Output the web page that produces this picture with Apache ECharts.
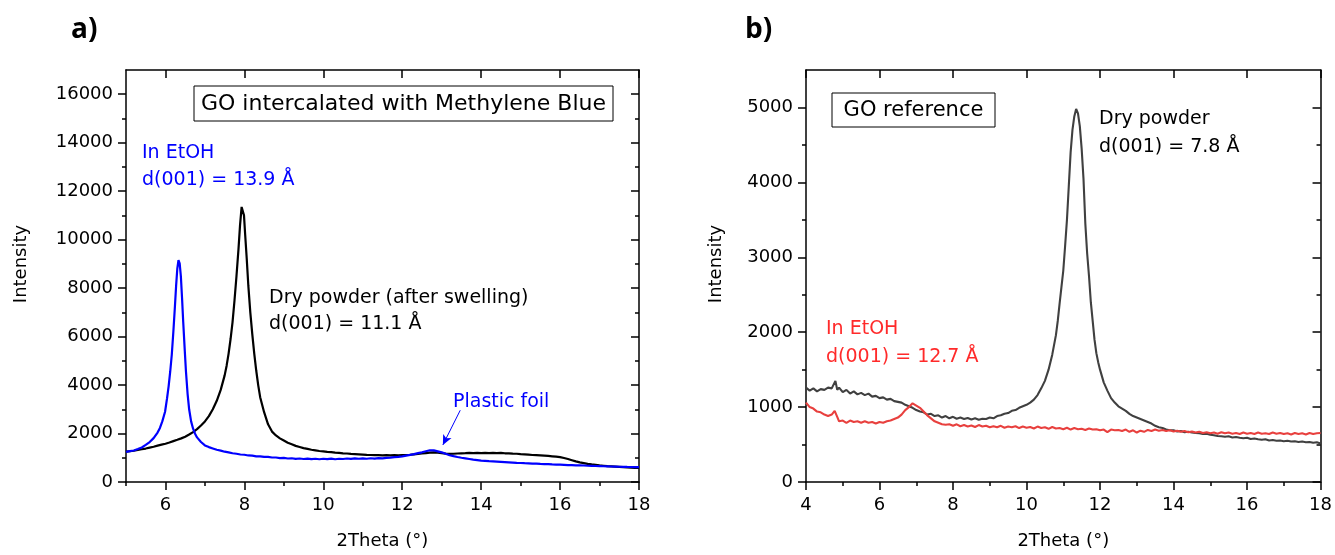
<!DOCTYPE html>
<html>
<head>
<meta charset="utf-8">
<title>XRD – GO intercalated with Methylene Blue / GO reference</title>
<script src="https://cdn.jsdelivr.net/npm/echarts@6/dist/echarts.min.js"></script>
<style>
  html, body { margin: 0; padding: 0; background: #fff; }
  #chart { width: 1335px; height: 555px; }
</style>
</head>
<body>
<div id="chart"></div>
<script>
// ---- Panel a: GO intercalated with Methylene Blue ----
// [2Theta (deg), intensity]
const ethanolA = [
  [5.0,1240],[5.1,1275],[5.2,1300],[5.3,1360],[5.4,1425],[5.5,1530],[5.6,1650],[5.7,1810],[5.8,2040],
  [5.86,2230],[5.92,2500],[5.99,2900],[6.04,3450],[6.08,3950],[6.12,4550],[6.16,5250],[6.2,6200],
  [6.24,7250],[6.27,8100],[6.3,8800],[6.33,9150],[6.36,9020],[6.39,8500],[6.42,7600],[6.45,6600],
  [6.49,5400],[6.52,4550],[6.56,3650],[6.6,3000],[6.65,2500],[6.7,2200],[6.75,1990],[6.8,1840],[6.9,1650],
  [7.0,1510],[7.1,1440],[7.2,1385],[7.3,1330],[7.4,1295],[7.5,1250],[7.6,1225],[7.7,1185],[7.8,1165],[7.9,1135],
  [8.0,1125],[8.1,1095],[8.2,1085],[8.3,1060],[8.4,1060],[8.5,1035],[8.6,1035],[8.7,1010],[8.8,1010],[8.9,985],
  [9.0,995],[9.1,970],[9.2,980],[9.3,955],[9.4,970],[9.5,950],[9.6,965],[9.7,945],[9.8,960],[9.9,940],
  [10.0,960],[10.1,945],[10.2,965],[10.3,940],[10.4,960],[10.5,950],[10.6,970],[10.7,955],[10.8,975],[10.9,960],
  [11.0,975],[11.1,960],[11.2,980],[11.3,965],[11.4,985],[11.5,975],[11.6,995],[11.7,1005],[11.8,1025],[11.9,1040],
  [12.0,1060],[12.1,1090],[12.2,1120],[12.3,1150],[12.4,1190],[12.5,1225],[12.6,1270],[12.7,1310],[12.8,1305],[12.9,1265],
  [13.0,1225],[13.1,1165],[13.2,1105],[13.3,1065],[13.4,1030],[13.5,1000],[13.6,975],[13.7,950],[13.8,925],[13.9,905],
  [14.0,885],[14.1,875],[14.2,860],[14.3,850],[14.4,840],[14.5,830],[14.6,820],[14.7,810],[14.8,800],[14.9,790],
  [15.0,785],[15.1,775],[15.2,770],[15.3,760],[15.4,755],[15.5,745],[15.6,740],[15.7,735],[15.8,725],[15.9,720],
  [16.0,715],[16.1,710],[16.2,700],[16.3,695],[16.4,690],[16.5,685],[16.6,680],[16.7,670],[16.8,665],[16.9,660],
  [17.0,655],[17.1,650],[17.2,645],[17.3,640],[17.4,635],[17.5,630],[17.6,625],[17.7,620],[17.8,618],[17.9,612],
  [18.0,610]
];

const dryPowderA = [
  [5.0,1250],[5.1,1270],[5.2,1290],[5.3,1320],[5.4,1350],[5.5,1380],[5.6,1420],[5.7,1455],[5.8,1500],[5.9,1540],
  [6.0,1580],[6.1,1630],[6.2,1685],[6.3,1740],[6.4,1800],[6.5,1870],[6.6,1960],[6.7,2060],[6.8,2180],[6.9,2330],
  [7.0,2500],[7.1,2720],[7.2,3000],[7.3,3350],[7.4,3800],[7.5,4400],
  [7.55,4800],[7.6,5300],[7.65,5900],[7.7,6600],[7.75,7500],[7.8,8500],[7.85,9600],[7.89,10600],[7.93,11350],
  [7.96,11400],[7.99,11000],[8.02,10200],[8.06,9200],[8.1,8100],[8.15,7000],[8.2,6100],[8.25,5300],[8.3,4600],
  [8.35,4000],[8.4,3500],[8.5,2880],[8.6,2380],[8.7,2080],[8.8,1920],[8.9,1800],
  [9.0,1710],[9.1,1620],[9.2,1555],[9.3,1490],[9.4,1445],[9.5,1400],[9.6,1365],[9.7,1330],[9.8,1305],[9.9,1280],
  [10.0,1265],[10.1,1245],[10.2,1235],[10.3,1215],[10.4,1200],[10.5,1185],[10.6,1175],[10.7,1160],[10.8,1150],[10.9,1140],
  [11.0,1130],[11.1,1120],[11.2,1115],[11.3,1105],[11.4,1110],[11.5,1100],[11.6,1105],[11.7,1095],[11.8,1105],[11.9,1100],
  [12.0,1110],[12.1,1115],[12.2,1125],[12.3,1140],[12.4,1155],[12.5,1175],[12.6,1195],[12.7,1215],[12.8,1225],[12.9,1210],
  [13.0,1190],[13.1,1170],[13.2,1160],[13.3,1165],[13.4,1175],[13.5,1185],[13.6,1190],[13.7,1200],[13.8,1195],[13.9,1205],
  [14.0,1195],[14.1,1200],[14.2,1190],[14.3,1200],[14.4,1195],[14.5,1205],[14.6,1185],[14.7,1180],[14.8,1170],[14.9,1165],
  [15.0,1150],[15.1,1140],[15.2,1130],[15.3,1115],[15.4,1105],[15.5,1095],[15.6,1085],[15.7,1075],[15.8,1060],[15.9,1045],
  [16.0,1025],[16.1,990],[16.2,950],[16.3,900],[16.4,850],[16.5,810],[16.6,780],[16.7,750],[16.8,725],[16.9,705],
  [17.0,685],[17.1,670],[17.2,655],[17.3,645],[17.4,635],[17.5,625],[17.6,615],[17.7,605],[17.8,595],[17.9,585],
  [18.0,578]
];

// ---- Panel b: GO reference ----
const dryPowderB = [
  [4.0,1260],[4.1,1220],[4.2,1250],[4.3,1210],[4.4,1240],[4.5,1230],[4.6,1260],[4.7,1250],[4.8,1350],[4.85,1230],
  [4.9,1260],[5.0,1200],[5.1,1230],[5.2,1180],[5.3,1210],[5.4,1170],[5.5,1190],[5.6,1160],[5.7,1180],[5.8,1140],
  [5.9,1150],[6.0,1120],[6.1,1130],[6.2,1100],[6.3,1110],[6.4,1080],[6.5,1070],[6.6,1060],[6.7,1030],[6.8,1010],
  [6.9,990],[7.0,960],[7.1,940],[7.2,930],[7.3,900],[7.4,910],[7.5,880],[7.6,890],[7.7,860],[7.8,880],
  [7.9,850],[8.0,870],[8.1,845],[8.2,860],[8.3,840],[8.4,855],[8.5,835],[8.6,850],[8.7,830],[8.8,845],
  [8.9,840],[9.0,860],[9.1,850],[9.2,880],[9.3,890],[9.4,910],[9.5,920],[9.6,950],[9.7,960],[9.8,990],
  [9.9,1010],[10.0,1030],[10.1,1060],[10.2,1100],[10.3,1160],[10.4,1250],[10.5,1350],[10.6,1500],[10.7,1700],[10.8,1960],
  [10.85,2150],[10.9,2380],[10.95,2600],[11.0,2820],[11.05,3150],[11.1,3500],[11.15,3950],[11.2,4400],[11.25,4700],[11.3,4880],
  [11.35,4980],[11.4,4920],[11.45,4750],[11.5,4450],[11.55,4050],[11.6,3450],[11.65,3050],[11.7,2750],[11.75,2400],[11.8,2150],
  [11.85,1900],[11.9,1720],[11.95,1600],[12.0,1500],
  [12.1,1330],[12.2,1220],[12.3,1120],[12.4,1060],[12.5,1010],[12.6,980],[12.7,950],[12.8,910],[12.9,880],[13.0,860],
  [13.1,840],[13.2,820],[13.3,800],[13.4,780],[13.5,750],[13.6,730],[13.7,720],[13.8,700],[13.9,690],[14.0,690],
  [14.1,675],[14.2,680],[14.3,665],[14.4,670],[14.5,660],[14.6,655],[14.7,650],[14.8,640],[14.9,645],[15.0,630],
  [15.1,625],[15.2,615],[15.3,610],[15.4,605],[15.5,610],[15.6,595],[15.7,600],[15.8,590],[15.9,585],[16.0,590],
  [16.1,575],[16.2,580],[16.3,570],[16.4,565],[16.5,570],[16.6,555],[16.7,560],[16.8,550],[16.9,555],[17.0,545],
  [17.1,550],[17.2,540],[17.3,545],[17.4,535],[17.5,540],[17.6,530],[17.7,535],[17.8,525],[17.9,530],[18.0,515]
];

const ethanolB = [
  [4.0,1060],[4.1,1000],[4.2,980],[4.3,940],[4.4,930],[4.5,900],[4.6,880],[4.7,900],[4.78,950],[4.85,870],
  [4.9,810],[5.0,820],[5.1,790],[5.2,820],[5.3,800],[5.4,810],[5.5,790],[5.6,810],[5.7,790],[5.8,800],
  [5.9,780],[6.0,800],[6.1,790],[6.2,810],[6.3,820],[6.4,840],[6.5,860],[6.6,900],[6.7,960],[6.8,1000],
  [6.9,1050],[6.95,1060],[7.0,1020],[7.1,990],[7.2,940],[7.3,890],[7.4,850],[7.5,810],[7.6,790],[7.7,770],
  [7.8,765],[7.9,770],[8.0,750],[8.1,770],[8.2,745],[8.3,760],[8.4,740],[8.5,755],[8.6,735],[8.7,760],
  [8.8,740],[8.9,750],[9.0,730],[9.1,745],[9.2,730],[9.3,750],[9.4,725],[9.5,740],[9.6,730],[9.7,745],
  [9.8,720],[9.9,740],[10.0,725],[10.1,735],[10.2,715],[10.3,740],[10.4,720],[10.5,730],[10.6,710],[10.7,735],
  [10.8,715],[10.9,720],[11.0,705],[11.1,725],[11.2,700],[11.3,720],[11.4,705],[11.5,710],[11.6,695],[11.7,715],
  [11.8,700],[11.9,705],[12.0,690],[12.1,700],[12.2,665],[12.3,700],[12.4,690],[12.5,695],[12.6,680],[12.7,700],
  [12.8,670],[12.9,690],[13.0,660],[13.1,685],[13.2,670],[13.3,695],[13.4,680],[13.5,700],[13.6,685],[13.7,695],
  [13.8,680],[13.9,690],[14.0,675],[14.1,685],[14.2,670],[14.3,680],[14.4,665],[14.5,675],[14.6,660],[14.7,670],
  [14.8,655],[14.9,665],[15.0,650],[15.1,660],[15.2,645],[15.3,665],[15.4,650],[15.5,660],[15.6,645],[15.7,655],
  [15.8,640],[15.9,660],[16.0,645],[16.1,655],[16.2,640],[16.3,660],[16.4,645],[16.5,650],[16.6,640],[16.7,660],
  [16.8,645],[16.9,655],[17.0,640],[17.1,650],[17.2,635],[17.3,655],[17.4,640],[17.5,650],[17.6,635],[17.7,655],
  [17.8,640],[17.9,650],[18.0,655]
];

// Tick positions
const xMajorA = [6, 8, 10, 12, 14, 16, 18];
const xMinorA = [5, 7, 9, 11, 13, 15, 17];
const yMajorA = [0, 2000, 4000, 6000, 8000, 10000, 12000, 14000, 16000];
const yMinorA = [1000, 3000, 5000, 7000, 9000, 11000, 13000, 15000];
const xMajorB = [4, 6, 8, 10, 12, 14, 16, 18];
const xMinorB = [5, 7, 9, 11, 13, 15, 17];
const yMajorB = [0, 1000, 2000, 3000, 4000, 5000];
const yMinorB = [500, 1500, 2500, 3500, 4500];

const FONT = 'DejaVu Sans';
const BLACK = '#000000';
const lineSt = { color: BLACK, width: 1.5 };

// Four x axes per panel: labelled bottom with long ticks, bottom short ticks,
// mirrored top line with inward long ticks, top inward short ticks.
function xAxesFor(g, min, max, majors, minors) {
  const base = { type: 'value', gridIndex: g, min: min, max: max, splitLine: { show: false } };
  return [
    Object.assign({}, base, {
      position: 'bottom',
      axisLine: { show: true, onZero: false, lineStyle: lineSt },
      axisTick: { show: true, customValues: majors, length: 8, lineStyle: lineSt },
      axisLabel: { show: true, customValues: majors, margin: 14, fontFamily: FONT, fontSize: 18, color: BLACK,
                   formatter: v => String(v) },
      name: '2Theta (°)', nameLocation: 'middle', nameGap: 50,
      nameTextStyle: { fontFamily: FONT, fontSize: 18, color: BLACK }
    }),
    Object.assign({}, base, {
      position: 'bottom', axisLine: { show: false },
      axisTick: { show: true, customValues: minors, length: 4, lineStyle: lineSt },
      axisLabel: { show: false }
    }),
    Object.assign({}, base, {
      position: 'top',
      axisLine: { show: true, onZero: false, lineStyle: lineSt },
      axisTick: { show: true, inside: true, customValues: majors, length: 8, lineStyle: lineSt },
      axisLabel: { show: false }
    }),
    Object.assign({}, base, {
      position: 'top', axisLine: { show: false },
      axisTick: { show: true, inside: true, customValues: minors, length: 4, lineStyle: lineSt },
      axisLabel: { show: false }
    })
  ];
}

function yAxesFor(g, min, max, majors, minors, gap) {
  const base = { type: 'value', gridIndex: g, min: min, max: max, splitLine: { show: false } };
  return [
    Object.assign({}, base, {
      position: 'left',
      axisLine: { show: true, onZero: false, lineStyle: lineSt },
      axisTick: { show: true, customValues: majors, length: 8, lineStyle: lineSt },
      axisLabel: { show: true, customValues: majors, margin: 13, fontFamily: FONT, fontSize: 18, color: BLACK,
                   formatter: v => String(v) },
      name: 'Intensity', nameLocation: 'middle', nameGap: gap, nameRotate: 90,
      nameTextStyle: { fontFamily: FONT, fontSize: 18, color: BLACK, padding: [0, 0, 0, 24] }
    }),
    Object.assign({}, base, {
      position: 'left', axisLine: { show: false },
      axisTick: { show: true, customValues: minors, length: 4, lineStyle: lineSt },
      axisLabel: { show: false }
    }),
    Object.assign({}, base, {
      position: 'right',
      axisLine: { show: true, onZero: false, lineStyle: lineSt },
      axisTick: { show: true, inside: true, customValues: majors, length: 8, lineStyle: lineSt },
      axisLabel: { show: false }
    }),
    Object.assign({}, base, {
      position: 'right', axisLine: { show: false },
      axisTick: { show: true, inside: true, customValues: minors, length: 4, lineStyle: lineSt },
      axisLabel: { show: false }
    })
  ];
}

function curve(name, data, xi, yi, color, width, extra) {
  return Object.assign({
    name: name, type: 'line', xAxisIndex: xi, yAxisIndex: yi, data: data,
    showSymbol: false, symbol: 'none', smooth: false, color: color,
    lineStyle: { color: color, width: width }, emphasis: { disabled: true }, silent: true
  }, extra || {});
}

function label(x, y, text, color, size, extra) {
  return {
    type: 'text', x: x, y: y, z: 100,
    style: Object.assign({ text: text, fill: color, fontFamily: FONT, fontSize: size, verticalAlign: 'middle' }, extra || {})
  };
}

const option = {
  animation: false,
  backgroundColor: '#ffffff',
  grid: [
    { left: 126, top: 70, width: 513, height: 414, containLabel: false },
    { left: 806, top: 70, width: 515, height: 414, containLabel: false }
  ],
  xAxis: xAxesFor(0, 5, 18, xMajorA, xMinorA).concat(xAxesFor(1, 4, 18, xMajorB, xMinorB)),
  yAxis: yAxesFor(0, 0, 17000, yMajorA, yMinorA, 96).concat(yAxesFor(1, 0, 5500, yMajorB, yMinorB, 81)),
  series: [
    curve('Dry powder (after swelling)', dryPowderA, 0, 0, '#000000', 2.2),
    curve('In EtOH', ethanolA, 0, 0, '#0000ff', 2.2, {
      markLine: {
        silent: true, animation: false,
        symbol: ['none', 'arrow'], symbolSize: [7, 10],
        lineStyle: { color: '#0000ff', width: 1, type: 'solid' },
        label: { show: false },
        data: [[{ coord: [13.47, 2960] }, { coord: [13.03, 1530] }]]
      }
    }),
    curve('Dry powder', dryPowderB, 4, 4, '#404040', 2.1),
    curve('In EtOH', ethanolB, 4, 4, '#e8403e', 2.1)
  ],
  graphic: [
    // panel letters
    { type: 'text', x: 71, y: 30, z: 100,
      style: { text: 'a)', fill: BLACK, fontFamily: 'Open Sans', fontWeight: 'bold', fontSize: 28, verticalAlign: 'middle' } },
    { type: 'text', x: 745, y: 30, z: 100,
      style: { text: 'b)', fill: BLACK, fontFamily: 'Open Sans', fontWeight: 'bold', fontSize: 28, verticalAlign: 'middle' } },
    // framed titles
    { type: 'rect', z: 90, shape: { x: 194, y: 86, width: 419, height: 35 },
      style: { fill: '#ffffff', stroke: BLACK, lineWidth: 1 } },
    label(403.5, 104, 'GO intercalated with Methylene Blue', BLACK, 22, { align: 'center' }),
    { type: 'rect', z: 90, shape: { x: 832, y: 93, width: 163, height: 34 },
      style: { fill: '#ffffff', stroke: BLACK, lineWidth: 1 } },
    label(913.5, 110.5, 'GO reference', BLACK, 21, { align: 'center' }),
    // panel a annotations
    label(142, 153, 'In EtOH', '#0000ff', 19),
    label(142, 180, 'd(001) = 13.9 Å', '#0000ff', 19),
    label(269, 298, 'Dry powder (after swelling)', BLACK, 19),
    label(269, 324, 'd(001) = 11.1 Å', BLACK, 19),
    label(453, 402, 'Plastic foil', '#0000ff', 19),
    // panel b annotations
    label(1099, 119, 'Dry powder', BLACK, 19),
    label(1099, 147, 'd(001) = 7.8 Å', BLACK, 19),
    label(826, 329, 'In EtOH', '#ff2a2a', 19),
    label(826, 357, 'd(001) = 12.7 Å', '#ff2a2a', 19)
  ]
};

const chart = echarts.init(document.getElementById('chart'), null, { renderer: 'canvas' });
chart.setOption(option);
</script>
</body>
</html>
